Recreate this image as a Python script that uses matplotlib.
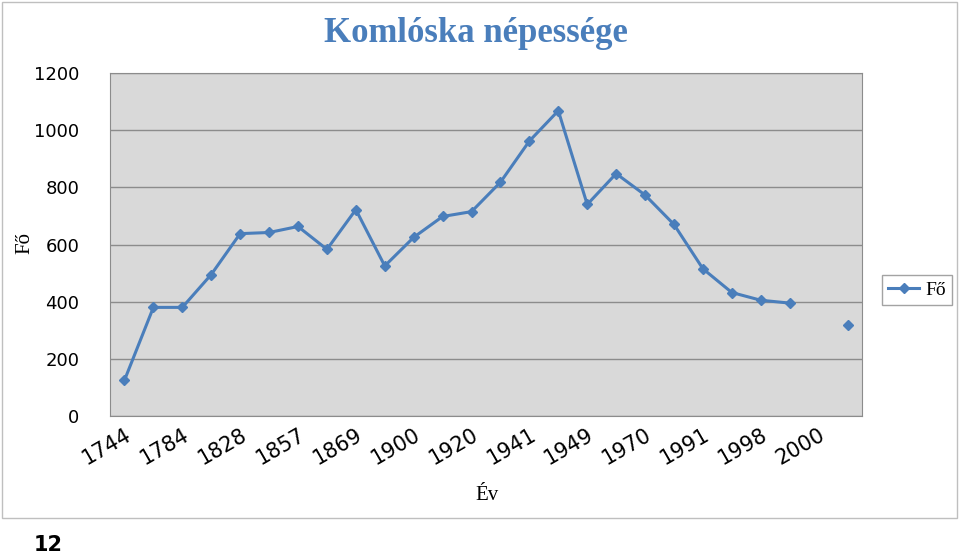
import matplotlib
matplotlib.use("Agg")
import matplotlib.pyplot as plt
import numpy as np

values = [125, 380, 380, 495, 638, 642, 663, 583, 722, 525, 625, 698, 715,
          818, 962, 1068, 740, 848, 773, 670, 515, 432, 405, 395, np.nan, 320]
tick_labels = ["1744", "1784", "1828", "1857", "1869", "1900", "1920",
               "1941", "1949", "1970", "1991", "1998", "2000"]
series_name = "Fő"

W, H = 960, 558
fig = plt.figure(figsize=(W/100, H/100), dpi=100)
ax = fig.add_axes([110/W, 1-416/H, 752/W, 343/H])
ax.set_facecolor("#d9d9d9")
x = np.arange(len(values)) + 0.5
ax.plot(x, values, color="#4a7ebb", lw=2.2, marker="D", ms=5, label=series_name)
ax.set_xlim(0, len(values))
ax.set_ylim(0, 1200)
ax.set_yticks(range(0, 1201, 200))
ax.yaxis.grid(True, color="#8c8c8c", lw=1)
ax.set_axisbelow(True)
ax.set_xticks(x[::2])
ax.set_xticklabels(tick_labels, rotation=30, ha="right", rotation_mode="anchor", fontsize=15)
ax.tick_params(axis="y", labelsize=13, length=0, pad=22)
ax.tick_params(axis="x", length=0, pad=6)
for s in ["top", "right", "left", "bottom"]:
    ax.spines[s].set_color("#8c8c8c")
fig.text(476/W, 1-33/H, "Komlóska népessége", fontsize=25, fontweight="bold", color="#4a7ebb",
         family="Liberation Serif", ha="center", va="center")
fig.text(25/W, 1-243/H, "Fő", rotation=90, fontsize=15, family="Liberation Serif",
         va="center", ha="center")
fig.text(487/W, 1-495/H, "Év", fontsize=15, family="Liberation Serif", va="center", ha="center")
fig.legend(loc="center", bbox_to_anchor=(917/W, 1-290/H),
           prop={"family": "Liberation Serif", "size": 14}, fancybox=False,
           edgecolor="#8c8c8c", handlelength=1.6, handletextpad=0.3, borderpad=0.3,
           borderaxespad=0)
fig.add_artist(plt.Rectangle((2/W, 1-518/H), 955/W, 516/H, transform=fig.transFigure,
                             fill=False, edgecolor="#bfbfbf", lw=1))
fig.text(48/W, 1-545/H, "12", fontsize=15, fontweight="bold", ha="center", va="center")
fig.savefig("out.png", dpi=100)
